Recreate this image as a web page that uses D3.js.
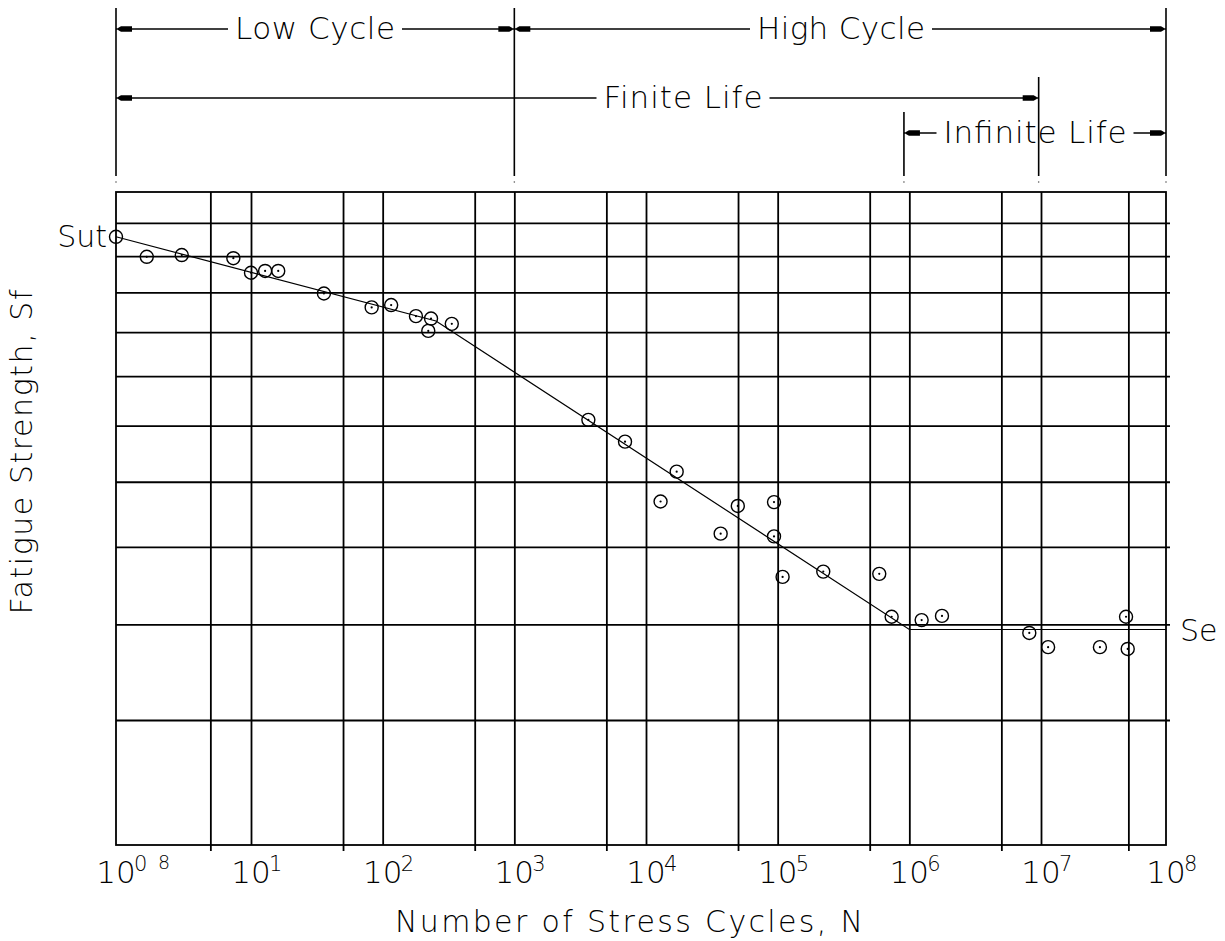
<!DOCTYPE html>
<html>
<head>
<meta charset="utf-8">
<title>S-N diagram</title>
<script src="https://d3js.org/d3.v7.min.js"></script>
<style>
  body { margin: 0; background: #fff; }
  text { font-family: "DejaVu Sans", "Liberation Sans", sans-serif; font-weight: 200; fill: #000; }
</style>
</head>
<body>
<script>
// test points: cycles to failure and fatigue strength (strength in arbitrary units)
var cycles = [1.69, 3.07, 7.4, 10, 12.8, 16.1, 35.8, 82.5, 116, 179, 233, 222, 335,
              3650, 6930, 17100, 12900, 49800, 93800, 36900, 93800,
              109000, 222000, 591000, 734000, 1240000, 1770000,
              8150000, 11400000, 29600000, 47900000, 49400000];
var strength = [117.8, 118.3, 117.4, 113.3, 113.8, 113.8, 107.7, 104.1, 104.7, 101.9, 101.3, 98.3, 100.0,
                79.1, 75.0, 69.7, 64.8, 64.1, 64.7, 59.9, 59.5,
                53.9, 54.6, 54.3, 48.9, 48.5, 49.0,
                47.0, 45.4, 45.4, 48.9, 45.2];

// S-N line: Sut at one cycle, knee, endurance limit Se, flat after
var curveN = [1, 254, 1e6, 1e8];
var curveS = [123.7, 100.7, 47.4, 47.4];

// grid and axis
var decades = [1, 10, 1e2, 1e3, 1e4, 1e5, 1e6, 1e7, 1e8];
var decadeExp = ["0", "1", "2", "3", "4", "5", "6", "7", "8"];
var halfN = [5, 50, 500, 5e3, 5e4, 5e5, 5e6, 5e7];
var gridN = [5, 10, 50, 1e2, 500, 1e3, 5e3, 1e4, 5e4, 1e5, 5e5, 1e6, 5e6, 1e7, 5e7];
var gridS = [38, 48, 58, 68, 78, 88, 98, 108, 118, 128];

// life ranges drawn above the chart
var bandLabels = ["Low Cycle", "High Cycle", "Finite Life", "Infinite Life"];
var bandFrom = [1, 1e3, 1, 9.1e5];
var bandTo = [1e3, 1e8, 9.6e6, 1e8];

var W = 1225, H = 941;
var svg = d3.select("body").append("svg")
  .attr("width", W)
  .attr("height", H)
  .style("display", "block");

svg.append("rect").attr("width", W).attr("height", H).attr("fill", "#fff");

var x = d3.scaleLog().domain([1, 10, 1e7, 1e8]).range([116, 251, 1041, 1166]);
var y = d3.scaleLog().domain([28, 138]).range([845, 192]);

var pLeft = x(1), pRight = x(1e8), pTop = y(138), pBottom = y(28);

// vertical grid lines
var vgrid = svg.append("g")
  .attr("transform", "translate(0," + pBottom + ")")
  .call(d3.axisBottom(x).tickValues(gridN).tickSize(-(pBottom - pTop)).tickFormat(""));
vgrid.select(".domain").remove();
vgrid.selectAll("line").attr("stroke", "#000").attr("stroke-width", 1.8);

// small ticks below the frame at 5 x 10^n
var ticks5 = svg.append("g")
  .attr("transform", "translate(0," + pBottom + ")")
  .call(d3.axisBottom(x).tickValues(halfN).tickSizeInner(6).tickSizeOuter(0).tickFormat(""));
ticks5.select(".domain").remove();
ticks5.selectAll("line").attr("stroke", "#000").attr("stroke-width", 1.8);

// horizontal grid lines
var hgrid = svg.append("g")
  .attr("transform", "translate(" + pLeft + ",0)")
  .call(d3.axisLeft(y).tickValues(gridS).tickSize(-(pRight - pLeft + 4)).tickFormat(""));
hgrid.select(".domain").remove();
hgrid.selectAll("line").attr("stroke", "#000").attr("stroke-width", 1.8);

// frame
svg.append("rect")
  .attr("x", pLeft).attr("y", pTop)
  .attr("width", pRight - pLeft).attr("height", pBottom - pTop)
  .attr("fill", "none").attr("stroke", "#000").attr("stroke-width", 1.8);

// S-N line
var curve = curveN.map(function(n, i) { return [n, curveS[i]]; });
svg.append("path")
  .datum(curve)
  .attr("fill", "none")
  .attr("stroke", "#000")
  .attr("stroke-width", 1.2)
  .attr("d", d3.line().x(function(d) { return x(d[0]); }).y(function(d) { return y(d[1]); }));

// Sut marker
svg.append("circle")
  .attr("cx", x(curveN[0])).attr("cy", y(curveS[0])).attr("r", 6.5)
  .attr("fill", "none").attr("stroke", "#000").attr("stroke-width", 1.4);

// test points
var pts = cycles.map(function(n, i) { return [n, strength[i]]; });
var pg = svg.append("g").selectAll("g").data(pts).enter().append("g")
  .attr("transform", function(d) { return "translate(" + x(d[0]) + "," + y(d[1]) + ")"; });
pg.append("circle").attr("r", 6.5).attr("fill", "none").attr("stroke", "#000").attr("stroke-width", 1.4);
pg.append("circle").attr("r", 1.1).attr("fill", "#000");

// x tick labels 10^n
var lab = svg.append("g").selectAll("g").data(decades).enter().append("g");
lab.append("text")
  .attr("x", function(d) { return x(d); })
  .attr("y", 883)
  .attr("text-anchor", "middle")
  .attr("font-size", 31)
  .text("10");
lab.append("text")
  .attr("x", function(d) { return x(d) + 18; })
  .attr("y", 871)
  .attr("font-size", 21)
  .text(function(d, i) { return decadeExp[i]; });
svg.append("text")
  .attr("x", x(1) + 42).attr("y", 869)
  .attr("font-size", 19).attr("font-weight", 700)
  .text("8");

// axis titles
svg.append("text")
  .attr("x", 395).attr("y", 932)
  .attr("font-size", 30)
  .attr("textLength", 468).attr("lengthAdjust", "spacing")
  .text("Number of Stress Cycles, N");
svg.append("text")
  .attr("transform", "translate(32,452) rotate(-90)")
  .attr("text-anchor", "middle")
  .attr("font-size", 30)
  .attr("textLength", 325).attr("lengthAdjust", "spacing")
  .text("Fatigue Strength, Sf");

svg.append("text")
  .attr("x", x(curveN[0]) - 9).attr("y", y(curveS[0]) + 10)
  .attr("text-anchor", "end")
  .attr("font-size", 30)
  .text("Sut");
svg.append("text")
  .attr("x", pRight + 14).attr("y", y(curveS[3]) + 12)
  .attr("font-size", 30)
  .text("Se");

// life range annotation above the grid
var rowY = [29, 29, 98, 133];
var labelX = [315, 841, 683, 1035];
var labelW = [160, 168, 159, 183];
var ann = svg.append("g");

// boundary lines, each starts a bit above the highest row touching it
var bounds = {};
bandFrom.forEach(function(n, i) {
  [n, bandTo[i]].forEach(function(b) {
    bounds[b] = Math.min(bounds[b] === undefined ? 1e9 : bounds[b], rowY[i] - 21);
  });
});
Object.keys(bounds).forEach(function(k) {
  var bx = x(+k);
  ann.append("line")
    .attr("x1", bx).attr("x2", bx)
    .attr("y1", bounds[k]).attr("y2", 176)
    .attr("stroke", "#000").attr("stroke-width", 1.6);
  ann.append("circle").attr("cx", bx).attr("cy", 182).attr("r", 0.8).attr("fill", "#555");
});

function arrowHead(bx, yy, dir) {
  var p = [[bx + dir * 2, yy - 1], [bx + dir * 5, yy - 2.8], [bx + dir * 16, yy - 2.8],
           [bx + dir * 16, yy + 2.8], [bx + dir * 5, yy + 2.8], [bx + dir * 2, yy + 1]];
  ann.append("path").attr("d", "M" + p.join("L") + "Z").attr("fill", "#000");
}

bandLabels.forEach(function(name, i) {
  var x0 = x(bandFrom[i]), x1 = x(bandTo[i]), yy = rowY[i];
  var t0 = labelX[i] - labelW[i] / 2, t1 = labelX[i] + labelW[i] / 2;
  ann.append("line").attr("x1", x0).attr("x2", t0 - 7).attr("y1", yy).attr("y2", yy)
    .attr("stroke", "#000").attr("stroke-width", 1.6);
  ann.append("line").attr("x1", t1 + 7).attr("x2", x1).attr("y1", yy).attr("y2", yy)
    .attr("stroke", "#000").attr("stroke-width", 1.6);
  arrowHead(x0, yy, 1);
  arrowHead(x1, yy, -1);
  ann.append("text")
    .attr("x", t0).attr("y", yy + 10)
    .attr("font-size", 31)
    .attr("textLength", labelW[i]).attr("lengthAdjust", "spacing")
    .text(name);
});
</script>
</body>
</html>
